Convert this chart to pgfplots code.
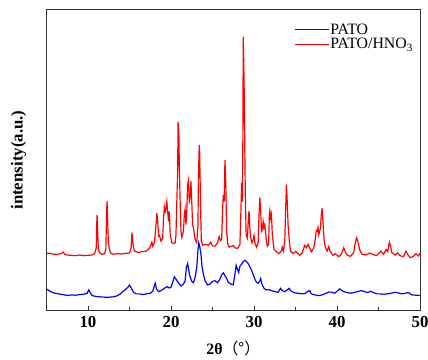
\documentclass[border=0pt]{standalone}
\usepackage{pgfplots}
\pgfplotsset{compat=1.18}
\usepackage{fontspec}
\setmainfont{Liberation Serif}
\newfontfamily\cjk{Noto Sans CJK SC}
\begin{document}
\begin{tikzpicture}
\begin{axis}[
  scale only axis,
  width=378pt, height=304pt,
  xmin=5, xmax=50, ymin=0, ymax=912,
  xtick={10,20,30,40,50},
  minor xtick={15,25,35,45},
  xtick pos=left,
  ytick=\empty,
  tick align=inside,
  major tick length=4pt, minor tick length=3pt,
  axis line style={line width=1.1pt, black!80},
  every tick/.style={black!80, line width=0.8pt},
  /pgf/number format/assume math mode=true,
  ticklabel style={font=\fontsize{17}{19}\selectfont\bfseries},
  xticklabel style={yshift=-2pt},
  xlabel={\textbf{2θ}{\cjk （°）}},
  xlabel style={font=\fontsize{16}{18}\selectfont, at={(axis description cs:0.5,0)}, anchor=north, yshift=-27pt},
  ylabel={\textbf{intensity(a.u.)}},
  ylabel style={font=\fontsize{17}{19}\selectfont, at={(axis description cs:-0.045,0.5)}, anchor=south, rotate=0},
  legend style={draw=none, fill=none, at={(axis description cs:0.985,0.96)}, anchor=north east,
    font=\fontsize{16}{18}\selectfont, row sep=2pt, inner sep=1pt,
    nodes={inner sep=0.5pt}},
  legend cell align=left,
  legend image code/.code={\draw[#1] (0pt,0pt) -- (35pt,0pt);},
]
\addplot[blue, line width=1.2pt] coordinates {
(5,65)(5.5,57)(6,52)(6.5,50)(7,48)(7.5,45)(8,47)(8.5,46)(9,48)(9.5,49)(9.9,52)(10.1,62)(10.25,55)(10.5,45)(11,42)(11.5,41)(12,40)(12.5,40)(13,41)(13.5,44)(13.9,50)(14.2,57)(14.5,63)(14.8,70)(15.0,77)(15.2,68)(15.5,55)(15.8,50)(16.2,50)(16.6,48)(17,50)(17.5,52)(17.8,58)(18.0,75)(18.1,82)(18.25,65)(18.5,57)(18.8,60)(19.1,65)(19.5,72)(19.8,68)(20.0,70)(20.2,85)(20.4,102)(20.6,95)(20.8,87)(21.0,80)(21.2,74)(21.5,80)(21.7,90)(21.85,130)(22.0,142)(22.15,120)(22.3,102)(22.5,88)(22.7,84)(22.9,100)(23.1,130)(23.25,185)(23.35,205)(23.45,195)(23.6,172)(23.75,130)(23.9,110)(24.1,90)(24.4,77)(24.7,80)(25.0,88)(25.3,90)(25.6,84)(25.9,95)(26.1,108)(26.3,114)(26.5,105)(26.7,97)(26.9,85)(27.2,80)(27.5,78)(27.7,110)(27.85,137)(28.0,125)(28.15,115)(28.3,134)(28.5,140)(28.7,148)(28.9,152)(29.1,148)(29.3,142)(29.5,132)(29.7,122)(29.9,108)(30.1,95)(30.3,85)(30.5,82)(30.7,90)(30.8,97)(30.95,80)(31.2,67)(31.5,62)(31.8,63)(32.1,60)(32.5,57)(32.9,55)(33.2,67)(33.4,60)(33.7,57)(34.0,62)(34.2,67)(34.5,58)(34.9,53)(35.3,52)(35.8,50)(36.2,52)(36.5,58)(36.7,60)(36.9,50)(37.3,47)(37.8,45)(38.2,47)(38.7,52)(39.0,56)(39.4,55)(39.7,52)(40.0,58)(40.3,65)(40.5,62)(40.8,57)(41.2,54)(41.6,52)(42.0,54)(42.5,57)(42.9,60)(43.3,57)(43.7,54)(44.0,58)(44.3,55)(44.8,50)(45.2,50)(45.6,49)(46.0,50)(46.5,52)(47.0,55)(47.4,53)(47.8,50)(48.2,52)(48.6,54)(49.0,47)(49.5,46)(50,45)
};
\addlegendentry{PATO}
\addplot[red, line width=1.2pt] coordinates {
(5,174)(5.5,172)(6,170)(6.5,171)(6.8,172)(7,177)(7.2,170)(7.5,168)(8,167)(8.5,166)(9,168)(9.5,166)(10,167)(10.5,168)(10.8,172)(11.0,190)(11.05,260)(11.1,290)(11.15,250)(11.25,185)(11.4,175)(11.7,170)(12,172)(12.15,185)(12.25,300)(12.3,332)(12.35,290)(12.45,210)(12.55,190)(12.7,175)(13,170)(13.5,172)(14,171)(14.5,173)(15,174)(15.2,190)(15.3,236)(15.35,225)(15.45,195)(15.6,180)(16,176)(16.5,178)(17,180)(17.4,188)(17.6,200)(17.7,207)(17.8,195)(18,205)(18.2,260)(18.3,295)(18.4,270)(18.5,225)(18.6,227)(18.8,210)(19.0,220)(19.1,280)(19.2,314)(19.3,300)(19.4,310)(19.5,330)(19.6,300)(19.7,270)(19.8,300)(19.9,230)(20.1,205)(20.3,203)(20.5,205)(20.6,230)(20.7,330)(20.8,420)(20.85,572)(20.95,530)(21.0,442)(21.1,330)(21.2,240)(21.3,222)(21.5,240)(21.6,290)(21.7,307)(21.8,260)(21.9,300)(22.0,380)(22.1,394)(22.2,330)(22.3,340)(22.4,392)(22.5,330)(22.6,260)(22.7,252)(22.9,215)(23.1,205)(23.25,260)(23.3,400)(23.4,502)(23.45,480)(23.55,330)(23.65,210)(23.8,198)(24.1,200)(24.5,198)(24.8,207)(25.0,195)(25.3,195)(25.6,205)(25.8,224)(25.95,212)(26.1,215)(26.2,300)(26.3,350)(26.4,330)(26.5,457)(26.6,380)(26.7,240)(26.85,200)(27.0,192)(27.3,195)(27.5,197)(27.7,190)(28.0,188)(28.3,200)(28.45,330)(28.5,387)(28.6,330)(28.65,500)(28.7,830)(28.8,700)(28.85,577)(28.95,350)(29.05,230)(29.2,220)(29.35,290)(29.4,302)(29.5,250)(29.6,220)(29.75,205)(29.9,215)(30.0,227)(30.1,205)(30.3,192)(30.5,205)(30.6,290)(30.7,342)(30.8,300)(30.9,240)(31.0,245)(31.1,270)(31.2,252)(31.3,260)(31.45,220)(31.6,195)(31.75,200)(31.85,290)(31.9,302)(32.0,280)(32.1,292)(32.2,230)(32.4,185)(32.7,178)(33.0,172)(33.3,180)(33.4,192)(33.55,180)(33.7,210)(33.8,300)(33.9,382)(34.0,330)(34.1,260)(34.25,210)(34.4,180)(34.7,172)(35.0,179)(35.2,175)(35.5,167)(35.8,175)(36.1,197)(36.3,190)(36.5,200)(36.7,190)(36.9,178)(37.2,190)(37.4,220)(37.5,242)(37.6,240)(37.7,252)(37.8,230)(37.9,240)(38.0,250)(38.1,290)(38.2,310)(38.3,270)(38.45,210)(38.6,190)(38.8,180)(39.0,194)(39.15,180)(39.5,167)(39.8,172)(40.2,163)(40.5,170)(40.8,190)(40.95,180)(41.2,168)(41.6,164)(42.0,175)(42.2,205)(42.35,220)(42.5,210)(42.7,185)(43.0,170)(43.5,168)(43.9,174)(44.3,170)(44.7,166)(45.0,172)(45.3,180)(45.6,170)(45.9,185)(46.1,178)(46.3,207)(46.45,195)(46.6,175)(47.0,168)(47.3,175)(47.6,166)(48.0,163)(48.3,180)(48.5,170)(48.8,160)(49.2,164)(49.5,172)(49.8,165)(50,174)
};
\addlegendentry{PATO/HNO\textsubscript{3}}
\end{axis}
\pgfresetboundingbox
\path ([shift={(-47pt,-50pt)}]current axis.south west) rectangle ([shift={(8pt,10pt)}]current axis.north east);
\end{tikzpicture}
\end{document}
